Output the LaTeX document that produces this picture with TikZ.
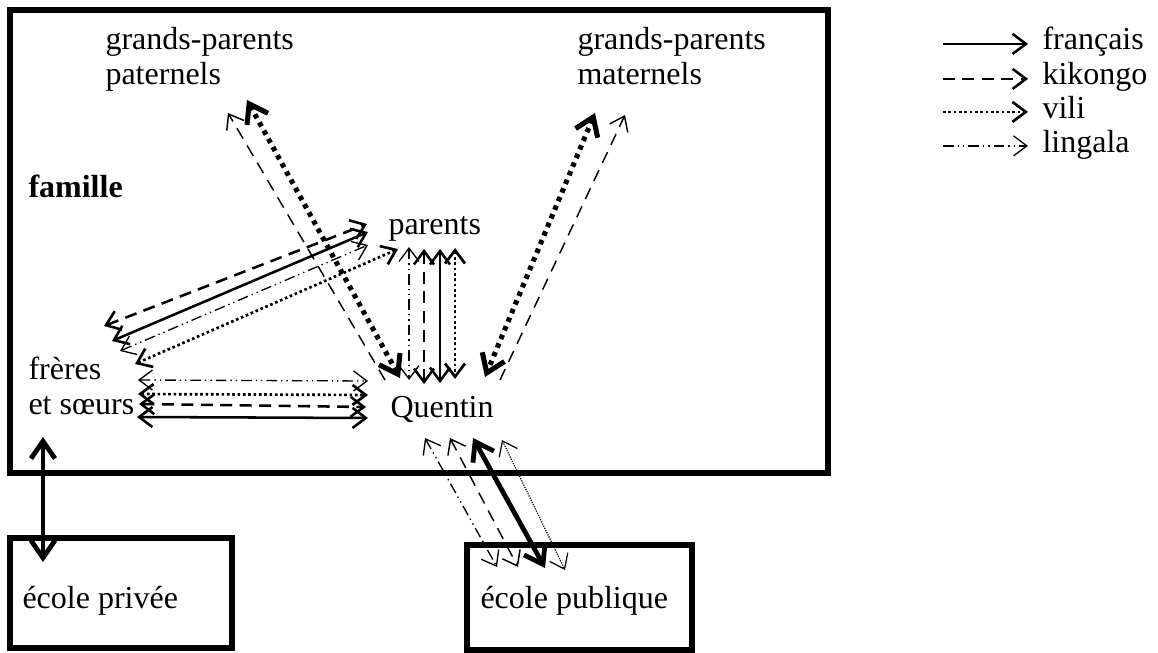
\documentclass[tikz,border=0pt]{standalone}
\usepackage{fontspec}
\setmainfont{Liberation Serif}
\usetikzlibrary{arrows.meta, calc}

\tikzset{
  lbl/.style={inner sep=0pt, anchor=base west, font=\fontsize{12pt}{13.1pt}\selectfont},
  grp/.style={inner sep=0pt, anchor=north west, align=left, font=\fontsize{12pt}{13.1pt}\selectfont},
  frame/.style={line width=2pt},
  fr/.style={line width=0.95pt},
  frbold/.style={line width=1.8pt, >={Straight Barb[length=6.5pt,width=9pt]}},
  kik/.style={line width=0.95pt, dash pattern=on 4.5pt off 2.8pt},
  kikfine/.style={line width=0.55pt, dash pattern=on 4.5pt off 3pt},
  vil/.style={line width=1pt, dash pattern=on 1pt off 1pt},
  vilbold/.style={line width=1.9pt, dash pattern=on 1.7pt off 1.8pt, >={Straight Barb[length=6.5pt,width=9pt]}},
  vilfine/.style={line width=0.45pt, dash pattern=on 0.45pt off 0.45pt},
  lin/.style={line width=0.5pt, dash pattern=on 4pt off 1.5pt on 0.5pt off 1.5pt on 0.5pt off 1.5pt},
}

\begin{document}
\begin{tikzpicture}[x=0.375pt, y=-0.375pt, >={Straight Barb[length=5pt,width=7.5pt]}]
  \useasboundingbox (0,0) rectangle (1158,653);

  % boxes
  \draw[frame] (10,10) rectangle (828,473);
  \draw[frame] (10,538) rectangle (232,648);
  \draw[frame] (467,545) rectangle (692,650);

  % people and places
  \node[grp] (gpp) at (105,27) {grands-parents\\paternels};
  \node[grp] (gpm) at (577,27) {grands-parents\\maternels};
  \node[lbl, font=\fontsize{12pt}{13.1pt}\selectfont\bfseries] (fam) at (28,197) {famille};
  \node[lbl] (par) at (388,234) {parents};
  \node[grp] (fs) at (28,356) {frères\\et sœurs};
  \node[lbl] (Q) at (390,417) {Quentin};
  \node[lbl] (ep) at (22,608) {école privée};
  \node[lbl] (epu) at (480,608) {école publique};

  % grands-parents paternels
  \draw[vilbold,<->] ($(gpp.north west)+(142,73)$) -- ($(Q.base west)+(10,-39)$);
  \draw[kikfine,->] ($(Q.base west)+(-5,-37)$) -- ($(gpp.north west)+(123,86)$);

  % grands-parents maternels
  \draw[vilbold,<->] ($(gpm.north west)+(18,86)$) -- ($(Q.base west)+(95,-40)$);
  \draw[kikfine,->] ($(Q.base west)+(110,-37)$) -- ($(gpm.north west)+(48,88)$);

  % freres et soeurs - parents
  \draw[kik,<->] ($(fs.north west)+(76,-30)$) -- ($(par.base west)+(-21,-10)$);
  \draw[fr,<->] ($(fs.north west)+(84,-15)$) -- ($(par.base west)+(-20,-2)$);
  \draw[lin,<->] ($(fs.north west)+(92,-5)$) -- ($(par.base west)+(-20,11)$);
  \draw[vil,<->] ($(fs.north west)+(107,8)$) -- ($(par.base west)+(10,15)$);

  % parents - Quentin
  \draw[lin,<->] ($(par.base west)+(21,13)$) -- ($(Q.base west)+(19,-37)$);
  \draw[kik,<->] ($(par.base west)+(36,15)$) -- ($(Q.base west)+(34,-33)$);
  \draw[fr,<->] ($(par.base west)+(52,15)$) -- ($(Q.base west)+(50,-34)$);
  \draw[vil,<->] ($(par.base west)+(67,14)$) -- ($(Q.base west)+(65,-38)$);

  % freres et soeurs - Quentin
  \draw[lin,<->] ($(fs.north west)+(110,24)$) -- ($(Q.base west)+(-22,-36)$);
  \draw[vil,<->] ($(fs.north west)+(110,38)$) -- ($(Q.base west)+(-22,-22)$);
  \draw[kik,<->] ($(fs.north west)+(111,48)$) -- ($(Q.base west)+(-24,-10)$);
  \draw[fr,<->] ($(fs.north west)+(109,61)$) -- ($(Q.base west)+(-22,1)$);

  % Quentin - ecole publique
  \draw[lin,<->] ($(Q.base west)+(35,21)$) -- ($(epu.base west)+(17,-41)$);
  \draw[kikfine,<->] ($(Q.base west)+(60,21)$) -- ($(epu.base west)+(38,-41)$);
  \draw[frbold,<->] ($(Q.base west)+(83,21)$) -- ($(epu.base west)+(65,-40)$);
  \draw[vilfine,<->] ($(Q.base west)+(112,23)$) -- ($(epu.base west)+(85,-38)$);

  % freres et soeurs - ecole privee
  \draw[frbold,<->] ($(fs.north west)+(15,81)$) -- ($(ep.base west)+(21,-46)$);

  % legend
  \node[lbl] (lfr) at (1042,50) {français};
  \node[lbl] (lkik) at (1042,85) {kikongo};
  \node[lbl] (lvil) at (1042,118) {vili};
  \node[lbl] (llin) at (1042,152) {lingala};
  \draw[fr,->] ($(lfr.mid west)+(-99,0)$) -- ($(lfr.mid west)+(-14,0)$);
  \draw[kik,->] ($(lkik.mid west)+(-99,0)$) -- ($(lkik.mid west)+(-14,0)$);
  \draw[vil,->] ($(lvil.mid west)+(-99,0)$) -- ($(lvil.mid west)+(-14,0)$);
  \draw[lin,->] ($(llin.mid west)+(-99,0)$) -- ($(llin.mid west)+(-14,0)$);
\end{tikzpicture}
\end{document}
